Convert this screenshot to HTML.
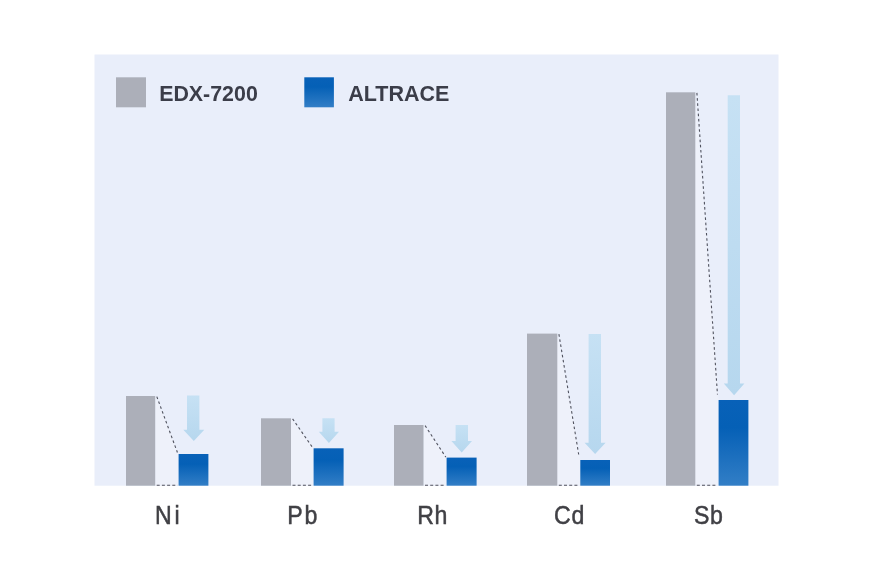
<!DOCTYPE html>
<html lang="en">
<head>
<meta charset="utf-8">
<title>EDX-7200 vs ALTRACE</title>
<style>
html,body{margin:0;padding:0;background:#fff;}
body{width:870px;height:580px;overflow:hidden;position:relative;}
svg{position:absolute;left:0;top:0;display:block;}
.leg{font-family:"Liberation Sans",sans-serif;font-weight:700;font-size:21.8px;fill:#3b3d49;}
.lab{font-family:"Liberation Sans","Noto Sans CJK JP",sans-serif;font-weight:400;font-size:25.7px;fill:#404045;stroke:#404045;stroke-width:0.5px;}
</style>
</head>
<body>
<svg width="870" height="580" viewBox="0 0 870 580">
<defs>
<linearGradient id="bl" x1="0" y1="0" x2="0" y2="1">
<stop offset="0" stop-color="#0861b8"/>
<stop offset="0.32" stop-color="#0560b6"/>
<stop offset="1" stop-color="#327ec6"/>
</linearGradient>
<linearGradient id="ar" x1="0" y1="0" x2="0" y2="1">
<stop offset="0" stop-color="#c6e1f4"/>
<stop offset="1" stop-color="#b6d7ee"/>
</linearGradient>
</defs>
<rect x="94.5" y="54.5" width="684" height="431.2" fill="#e9eefa"/>
<rect x="116" y="77.3" width="30" height="30" fill="#acafb9"/>
<text class="leg" x="159.2" y="100.9" textLength="98.6" lengthAdjust="spacingAndGlyphs">EDX-7200</text>
<rect x="304.3" y="77.3" width="29.6" height="30" fill="url(#bl)"/>
<text class="leg" x="348.2" y="100.7" textLength="101.2" lengthAdjust="spacingAndGlyphs">ALTRACE</text>

<g>
<polygon points="155.2,396 178.6,454 178.6,485.7 155.2,485.7" fill="#eef1fa"/>
<rect x="126" y="396" width="29.2" height="89.7" fill="#acafb9"/>
<rect x="178.6" y="454" width="29.8" height="31.7" fill="url(#bl)"/>
<line x1="156.8" y1="396.6" x2="177.43" y2="452.50" stroke="#50525e" stroke-width="1.1" stroke-dasharray="2.6 2.6"/>
<line x1="156.7" y1="485.3" x2="177.6" y2="485.3" stroke="#50525e" stroke-width="1.1" stroke-dasharray="3 2.2"/>
<polygon points="187,395.5 199.4,395.5 199.4,429.7 204.3,429.7 193.8,441 183.3,429.7 187,429.7" fill="url(#ar)"/>
<text class="lab" transform="translate(155.03,524) scale(0.9,1)" dx="0 3.01">Ni</text>
</g>
<g>
<polygon points="291,418.3 313.6,448.3 313.6,485.7 291,485.7" fill="#eef1fa"/>
<rect x="261" y="418.3" width="30.0" height="67.4" fill="#acafb9"/>
<rect x="313.6" y="448.3" width="30.0" height="37.4" fill="url(#bl)"/>
<line x1="292.6" y1="418.9" x2="312.45" y2="447.30" stroke="#50525e" stroke-width="1.1" stroke-dasharray="2.6 2.6"/>
<line x1="292.5" y1="485.3" x2="312.6" y2="485.3" stroke="#50525e" stroke-width="1.1" stroke-dasharray="3 2.2"/>
<polygon points="322.4,418.3 334.6,418.3 334.6,431.7 339,431.7 328.9,443 318.8,431.7 322.4,431.7" fill="url(#ar)"/>
<text class="lab" transform="translate(287.30,524) scale(0.9,1)" dx="0 1.86">Pb</text>
</g>
<g>
<polygon points="423.5,425 446.6,457.6 446.6,485.7 423.5,485.7" fill="#eef1fa"/>
<rect x="394" y="425" width="29.5" height="60.7" fill="#acafb9"/>
<rect x="446.6" y="457.6" width="30.0" height="28.1" fill="url(#bl)"/>
<line x1="425.1" y1="425.6" x2="445.80" y2="457.10" stroke="#50525e" stroke-width="1.1" stroke-dasharray="2.6 2.6"/>
<line x1="425.0" y1="485.3" x2="445.6" y2="485.3" stroke="#50525e" stroke-width="1.1" stroke-dasharray="3 2.2"/>
<polygon points="455.6,425 468,425 468,441 472,441 461.7,452.4 451.4,441 455.6,441" fill="url(#ar)"/>
<text class="lab" transform="translate(417.37,524) scale(0.9,1)" dx="0 0.40">Rh</text>
</g>
<g>
<polygon points="557.3,333.6 580.3,460 580.3,485.7 557.3,485.7" fill="#eef1fa"/>
<rect x="527" y="333.6" width="30.3" height="152.1" fill="#acafb9"/>
<rect x="580.3" y="460" width="29.7" height="25.7" fill="url(#bl)"/>
<line x1="558.9" y1="334.2" x2="578.68" y2="454.50" stroke="#50525e" stroke-width="1.1" stroke-dasharray="2.6 2.6"/>
<line x1="558.8" y1="485.3" x2="579.3" y2="485.3" stroke="#50525e" stroke-width="1.1" stroke-dasharray="3 2.2"/>
<polygon points="588.6,334 601,334 601,442.7 605.6,442.7 595.1,454 584.6,442.7 588.6,442.7" fill="url(#ar)"/>
<text class="lab" transform="translate(554.02,524) scale(0.9,1)" dx="0 0.77">Cd</text>
</g>
<g>
<polygon points="695.3,92.3 718.6,400 718.6,485.7 695.3,485.7" fill="#eef1fa"/>
<rect x="666" y="92.3" width="29.3" height="393.4" fill="#acafb9"/>
<rect x="718.6" y="400" width="29.8" height="85.7" fill="url(#bl)"/>
<line x1="696.9" y1="92.9" x2="717.46" y2="394.50" stroke="#50525e" stroke-width="1.1" stroke-dasharray="2.6 2.6"/>
<line x1="696.8" y1="485.3" x2="717.6" y2="485.3" stroke="#50525e" stroke-width="1.1" stroke-dasharray="3 2.2"/>
<polygon points="727.7,95.3 740,95.3 740,383.6 744.4,383.6 734.1,395.2 723.8,383.6 727.7,383.6" fill="url(#ar)"/>
<text class="lab" transform="translate(694.00,524) scale(0.9,1)" dx="0 0.70">Sb</text>
</g>
</svg>
</body>
</html>
